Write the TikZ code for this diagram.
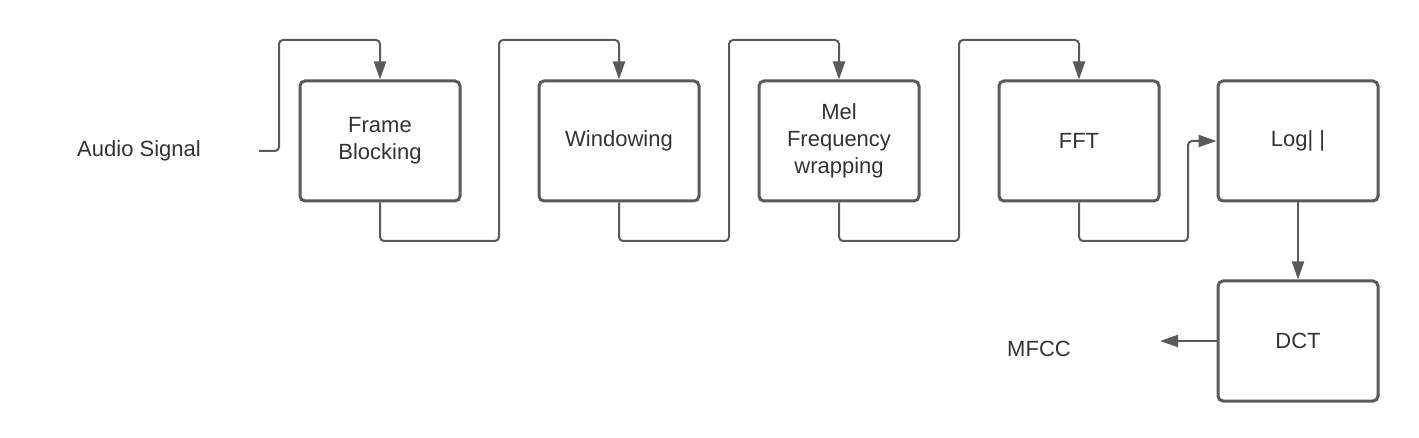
\documentclass[tikz,border=0pt]{standalone}
\usepackage{fontspec}
\setmainfont{Liberation Sans}
\usetikzlibrary{arrows.meta}
\definecolor{linegray}{HTML}{5A5A5A}
\definecolor{textgray}{HTML}{333333}
\tikzset{
	stage/.style={
		% The shape:
		rectangle,rounded corners=2.5pt,
		% The size:
		minimum width=80pt,minimum height=60pt,
		% The border:
		line width=1.5pt,
		draw=linegray,
		% The text:
		align=center,text=textgray,
		font=\fontsize{11}{13.5}\selectfont
	}}
\tikzset{
	caption/.style={
		text=textgray,font=\fontsize{11}{13.5}\selectfont
	}}
\tikzset{
	flow/.style={
		% The line:
		line width=1pt,draw=linegray,rounded corners=2pt,
		% The tip:
		-{Triangle[length=9pt,width=6pt]}
	}}

\begin{document}
\begin{tikzpicture}[x=0.5pt,y=-0.5pt]
\useasboundingbox (0,0) rectangle (1419,438);
% stages
\node[stage] (frame) at (380,141) {Frame\\Blocking};
\node[stage] (win) at (619,141) {Windowing};
\node[stage] (mel) at (839,141) {Mel\\Frequency\\wrapping};
\node[stage] (fft) at (1079,141) {FFT};
\node[stage] (log) at (1298,141) {Log| |};
\node[stage] (dct) at (1298,341) {DCT};
% input and output
\node[caption] (audio) at (139,151) {Audio Signal};
\node[caption] (mfcc) at (1039,349) {MFCC};
\coordinate (in) at (259,151);
\coordinate (out) at (1160,341);
% connectors
\draw[flow] (in) -- (279,151) |- (380,40) -- (frame.north);
\draw[flow] (frame.south) -- (380,241) -| (499,40) -| (win.north);
\draw[flow] (win.south) -- (619,241) -| (729,40) -| (mel.north);
\draw[flow] (mel.south) -- (839,241) -| (959,40) -| (fft.north);
\draw[flow] (fft.south) -- (1079,241) -| (1188,141) -- (log.west);
\draw[flow] (log.south) -- (dct.north);
\draw[flow] (dct.west) -- (out);
\end{tikzpicture}
\end{document}
